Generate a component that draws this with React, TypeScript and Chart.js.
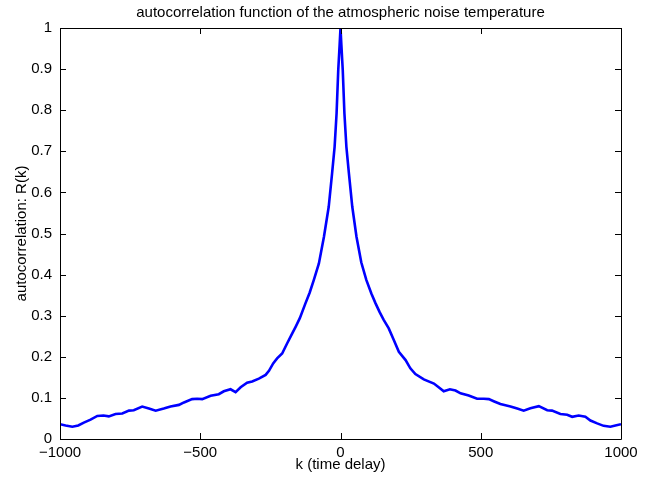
import React, { useEffect, useRef } from "react";
import { Chart, registerables } from "chart.js";

Chart.register(...registerables);

const titleText = "autocorrelation function of the atmospheric noise temperature";
const xLabel = "k (time delay)";
const yLabel = "autocorrelation: R(k)";

const lags = [
  -1000, -980, -956, -935, -915, -891, -867, -845, -826, -802, -778, -754, -737, -707, -683,
  -659, -630, -606, -576, -558, -529, -511, -493, -463, -434, -416, -392, -374, -356, -333,
  -315, -291, -267, -255, -240, -226, -208, -190, -172, -160, -145, -125, -110, -95, -77,
  -59, -42, -30, -21, -14, -8, -3, 0,
  3, 8, 14, 21, 30, 42, 57, 74, 92, 110, 125, 140, 154, 172, 190, 208, 232, 249, 267, 297,
  333, 350, 368, 390, 410, 428, 457, 487, 511, 529, 546, 570, 606, 630, 653, 677, 707,
  737, 754, 784, 808, 826, 849, 873, 891, 915, 938, 962, 980, 1000,
];

const autocorr = [
  0.036, 0.033, 0.030, 0.033, 0.040, 0.047, 0.056, 0.057, 0.055, 0.061, 0.062, 0.069, 0.070, 0.079, 0.074,
  0.069, 0.074, 0.079, 0.083, 0.089, 0.097, 0.098, 0.097, 0.105, 0.109, 0.116, 0.121, 0.114, 0.126, 0.137,
  0.140, 0.147, 0.156, 0.166, 0.184, 0.196, 0.208, 0.233, 0.257, 0.273, 0.294, 0.330, 0.356, 0.387, 0.427,
  0.492, 0.565, 0.646, 0.711, 0.792, 0.898, 0.960, 1.0,
  0.960, 0.898, 0.792, 0.711, 0.646, 0.565, 0.492, 0.430, 0.387, 0.354, 0.330, 0.308, 0.290, 0.269, 0.241, 0.212, 0.192, 0.172, 0.158, 0.145,
  0.135, 0.126, 0.116, 0.121, 0.118, 0.111, 0.106, 0.098, 0.098, 0.097, 0.092, 0.085, 0.079, 0.074, 0.069, 0.075, 0.080,
  0.070, 0.069, 0.061, 0.059, 0.054, 0.057, 0.054, 0.045, 0.038, 0.032, 0.030, 0.033, 0.036,
];

const xTicks = [-1000, -500, 0, 500, 1000];
const yTicks = [0, 0.1, 0.2, 0.3, 0.4, 0.5, 0.6, 0.7, 0.8, 0.9, 1];

const FONT = "'Liberation Sans', Arial, Helvetica, sans-serif";

const boxTicksPlugin = {
  id: "boxTicks",
  afterDatasetsDraw(chart: any) {
    const { ctx, chartArea, scales } = chart;
    const { left, right, top, bottom } = chartArea;
    const len = 6;
    ctx.save();
    ctx.strokeStyle = "#000";
    ctx.lineWidth = 1;
    ctx.beginPath();
    for (const v of xTicks) {
      const x = Math.round(scales.x.getPixelForValue(v)) + 0.5;
      ctx.moveTo(x, bottom);
      ctx.lineTo(x, bottom - len);
      ctx.moveTo(x, top);
      ctx.lineTo(x, top + len);
    }
    for (const v of yTicks) {
      const y = Math.round(scales.y.getPixelForValue(v)) + 0.5;
      ctx.moveTo(left, y);
      ctx.lineTo(left + len, y);
      ctx.moveTo(right, y);
      ctx.lineTo(right - len, y);
    }
    ctx.stroke();
    ctx.beginPath();
    ctx.rect(Math.round(left) + 0.5, Math.round(top) + 0.5, Math.round(right - left), Math.round(bottom - top));
    ctx.stroke();
    // plot title centred over the axes box
    ctx.fillStyle = "#000";
    ctx.font = `15px ${FONT}`;
    ctx.textAlign = "center";
    ctx.textBaseline = "middle";
    ctx.fillText(titleText, (left + right) / 2, 13);
    ctx.restore();
  },
};

export default function App() {
  const ref = useRef<HTMLCanvasElement | null>(null);

  useEffect(() => {
    if (!ref.current) return;
    const points = lags.map((k, i) => ({ x: k, y: autocorr[i] }));
    const chart = new Chart(ref.current, {
      type: "line",
      data: {
        datasets: [
          {
            data: points,
            borderColor: "#0000ff",
            borderWidth: 2.6,
            pointRadius: 0,
            tension: 0,
            fill: false,
          },
        ],
      },
      options: {
        responsive: false,
        animation: false,
        devicePixelRatio: 1,
        layout: { padding: { top: 28, right: 36, bottom: 0, left: 0 } },
        plugins: {
          legend: { display: false },
          tooltip: { enabled: false },
          title: { display: false },
        },
        scales: {
          x: {
            type: "linear",
            min: -1000,
            max: 1000,
            afterFit: (s: any) => {
              s.height = 42;
            },
            afterBuildTicks: (s: any) => {
              s.ticks = xTicks.map((v) => ({ value: v }));
            },
            ticks: {
              color: "#000",
              font: { family: FONT, size: 15 },
              padding: 5,
              maxRotation: 0,
              autoSkip: false,
              callback: (v: any) => String(v).replace("-", "\u2212"),
            },
            grid: { display: false, drawTicks: false },
            border: { display: false },
            title: {
              display: true,
              text: xLabel,
              color: "#000",
              font: { family: FONT, size: 15 },
              padding: { top: 0, bottom: 7 },
            },
          },
          y: {
            type: "linear",
            min: 0,
            max: 1,
            afterFit: (s: any) => {
              s.width = 60;
            },
            afterBuildTicks: (s: any) => {
              s.ticks = yTicks.map((v) => ({ value: v }));
            },
            ticks: {
              color: "#000",
              font: { family: FONT, size: 15 },
              padding: 8,
              autoSkip: false,
              callback: (v: any) => String(Number(Number(v).toFixed(1))),
            },
            grid: { display: false, drawTicks: false },
            border: { display: false },
            title: {
              display: true,
              text: yLabel,
              color: "#000",
              font: { family: FONT, size: 15 },
              padding: { top: 13, bottom: 0 },
            },
          },
        },
      },
      plugins: [boxTicksPlugin],
    });
    return () => chart.destroy();
  }, []);

  return (
    <div style={{ position: "absolute", left: 0, top: 0, width: 657, height: 481, background: "#fff" }}>
      <canvas ref={ref} width={657} height={481} style={{ width: 657, height: 481 }} />
    </div>
  );
}
